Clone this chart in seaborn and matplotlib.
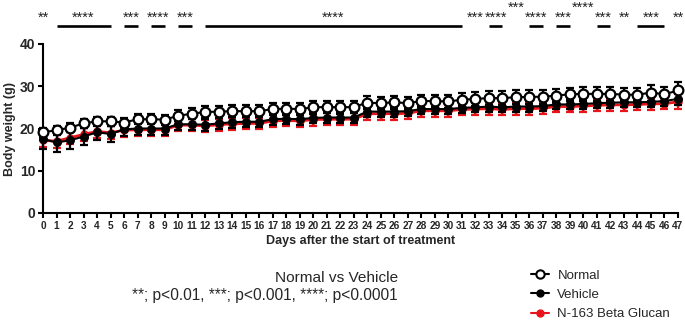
import numpy as np
import pandas as pd
import matplotlib
matplotlib.use("Agg")
import matplotlib.pyplot as plt
from matplotlib.lines import Line2D
import seaborn as sns

# ---------------- data ----------------
days = list(range(48))
normal_mean = [19.1, 19.6, 20.2, 21.2, 21.7, 21.7, 21.4, 22.2, 22.2, 22.1,
               23.0, 23.5, 23.9, 24.0, 24.1, 24.1, 24.1, 24.6, 24.7, 24.6,
               25.0, 25.1, 25.0, 25.1, 26.1, 26.0, 26.2, 26.0, 26.5, 26.5,
               26.4, 26.8, 27.0, 27.2, 27.2, 27.4, 27.5, 27.5, 27.8, 28.1,
               28.2, 28.2, 28.2, 28.0, 28.0, 28.5, 28.1, 29.0]
normal_sd = [1.0, 1.1, 1.1, 1.1, 1.1, 1.1, 1.1, 1.2, 1.2, 1.2,
             1.3, 1.3, 1.4, 1.4, 1.4, 1.4, 1.4, 1.4, 1.4, 1.4,
             1.5, 1.5, 1.5, 1.5, 1.5, 1.5, 1.5, 1.5, 1.5, 1.5,
             1.5, 1.5, 1.6, 1.6, 1.6, 1.6, 1.6, 1.6, 1.6, 1.6,
             1.7, 1.7, 1.7, 1.6, 1.6, 1.9, 1.7, 1.9]
vehicle_mean = [17.5, 16.7, 17.2, 18.1, 19.1, 18.7, 19.8, 20.0, 20.0, 20.0,
                21.0, 21.0, 20.9, 21.2, 21.5, 21.6, 21.6, 22.2, 22.3, 22.2,
                22.5, 22.6, 22.6, 22.6, 24.0, 24.0, 24.0, 24.1, 24.6, 24.6,
                24.6, 24.9, 25.0, 25.2, 25.0, 25.2, 25.2, 25.3, 25.7, 25.7,
                25.8, 26.0, 26.1, 26.2, 26.2, 26.3, 26.5, 27.0]
vehicle_sd = [2.3, 2.2, 2.0, 2.0, 1.8, 1.8, 1.6, 1.5, 1.5, 1.5,
              1.4, 1.4, 1.4, 1.4, 1.3, 1.3, 1.3, 1.3, 1.3, 1.3,
              1.3, 1.3, 1.3, 1.3, 1.2, 1.2, 1.2, 1.2, 1.2, 1.2,
              1.2, 1.2, 1.2, 1.2, 1.2, 1.2, 1.2, 1.2, 1.2, 1.2,
              1.2, 1.2, 1.2, 1.2, 1.2, 1.2, 1.2, 1.4]
beta_mean = [17.2, 17.0, 17.8, 18.6, 19.3, 19.0, 19.6, 19.7, 19.7, 19.7,
             20.8, 20.8, 20.6, 20.9, 21.1, 21.2, 21.2, 21.8, 21.9, 21.8,
             22.1, 22.2, 22.2, 22.2, 23.5, 23.5, 23.5, 23.6, 24.2, 24.2,
             24.2, 24.5, 24.6, 24.7, 24.5, 24.7, 24.7, 24.8, 25.2, 25.2,
             25.3, 25.5, 25.6, 25.6, 25.7, 25.8, 25.9, 26.3]
beta_sd = [1.6, 1.6, 1.5, 1.5, 1.5, 1.5, 1.5, 1.5, 1.5, 1.5,
           1.4, 1.4, 1.4, 1.4, 1.4, 1.4, 1.4, 1.4, 1.4, 1.4,
           1.4, 1.4, 1.4, 1.4, 1.4, 1.4, 1.4, 1.4, 1.4, 1.4,
           1.4, 1.4, 1.4, 1.4, 1.4, 1.4, 1.4, 1.4, 1.4, 1.4,
           1.4, 1.4, 1.4, 1.4, 1.4, 1.4, 1.4, 1.8]

group_names = ["Normal", "Vehicle", "N-163 Beta Glucan"]

# significance (Normal vs Vehicle): start day, end day, label, stacked row
sig_start = [0, 1, 6, 8, 10, 12, 32, 33, 35, 36, 38, 40, 41, 43, 44, 47]
sig_end = [0, 5, 7, 9, 11, 31, 32, 34, 35, 37, 39, 40, 42, 43, 46, 47]
sig_label = ["**", "****", "***", "****", "***", "****", "***", "****",
             "***", "****", "***", "****", "***", "**", "***", "**"]
sig_row = [0, 0, 0, 0, 0, 0, 0, 0, 1, 0, 0, 1, 0, 0, 0, 0]

title_text = "Normal vs Vehicle"
pval_text = "**; p<0.01, ***; p<0.001, ****; p<0.0001"

# ---------------- style ----------------
sns.set_style("ticks")
plt.rcParams["font.family"] = ["Liberation Sans", "DejaVu Sans"]

fig = plt.figure(figsize=(6.85, 3.21), dpi=100)
ax = fig.add_axes([43 / 685, 1 - 213 / 321, (678 - 43) / 685, (213 - 44) / 321])

df = pd.DataFrame({"day": days, "normal": normal_mean,
                   "vehicle": vehicle_mean, "beta": beta_mean})

# N-163 Beta Glucan (red, bottom layer)
ax.errorbar(days, beta_mean, yerr=beta_sd, fmt="none", ecolor="#e8141b",
            elinewidth=1.6, capsize=2.9, capthick=1.6, zorder=2, clip_on=False)
sns.lineplot(data=df, x="day", y="beta", ax=ax, color="#e8141b", lw=2.0,
             marker="o", markersize=5, markerfacecolor="#e8141b",
             markeredgecolor="#e8141b", markeredgewidth=1, zorder=3,
             clip_on=False)

# Vehicle (black filled)
ax.errorbar(days, vehicle_mean, yerr=vehicle_sd, fmt="none", ecolor="black",
            elinewidth=1.6, capsize=2.9, capthick=1.6, zorder=4, clip_on=False)
sns.lineplot(data=df, x="day", y="vehicle", ax=ax, color="black", lw=1.5,
             marker="o", markersize=5.5, markerfacecolor="black",
             markeredgecolor="black", markeredgewidth=1, zorder=5,
             clip_on=False)

# Normal (open circles, top)
ax.errorbar(days, normal_mean, yerr=normal_sd, fmt="none", ecolor="black",
            elinewidth=1.6, capsize=2.9, capthick=1.6, zorder=6, clip_on=False)
sns.lineplot(data=df, x="day", y="normal", ax=ax, color="black", lw=1.5,
             marker="o", markersize=7, markerfacecolor="white",
             markeredgecolor="black", markeredgewidth=1.6, zorder=7,
             clip_on=False)

ax.set_xlim(0, 47)
ax.set_ylim(0, 40)
ax.set_xticks(days)
ax.set_xticklabels([str(d) for d in days], fontsize=7.3, fontweight="bold")
ax.set_yticks([0, 10, 20, 30, 40])
ax.set_yticklabels(["0", "10", "20", "30", "40"], fontsize=10, fontweight="bold")
ax.tick_params(axis="both", direction="out", length=3.5, width=1.5,
               color="black", pad=2)
for side in ["top", "right"]:
    ax.spines[side].set_visible(False)
for side in ["left", "bottom"]:
    ax.spines[side].set_linewidth(1.5)
    ax.spines[side].set_color("black")
ax.set_xlabel("Days after the start of treatment", fontsize=9,
              fontweight="bold", labelpad=3)
ax.set_ylabel("Body weight (g)", fontsize=9, fontweight="bold", labelpad=3)

# significance bars
line_y = 44.3
text_y = [46.3, 48.6]
for s, e, lab, r in zip(sig_start, sig_end, sig_label, sig_row):
    if e > s:
        ax.plot([s, e], [line_y, line_y], color="black", lw=1.9,
                solid_capstyle="butt", clip_on=False)
    ax.text((s + e) / 2, text_y[r], lab, ha="center", va="center",
            fontsize=10.5, color="#222222", clip_on=False)

# footnote texts
fig.text(398 / 685, 1 - 281.5 / 321, title_text, ha="right", va="baseline",
         fontsize=11.1)
fig.text(398 / 685, 1 - 300 / 321, pval_text, ha="right", va="baseline",
         fontsize=11.2)

# legend
handles = [
    Line2D([], [], color="black", lw=1.5, marker="o", markersize=6,
           markerfacecolor="white", markeredgecolor="black", markeredgewidth=1.5),
    Line2D([], [], color="black", lw=1.5, marker="o", markersize=5,
           markerfacecolor="black", markeredgecolor="black"),
    Line2D([], [], color="#e8141b", lw=1.5, marker="o", markersize=5,
           markerfacecolor="#e8141b", markeredgecolor="#e8141b"),
]
fig.legend(handles, group_names, loc="upper left",
           bbox_to_anchor=(531 / 685, 1 - 269.5 / 321), frameon=False,
           fontsize=9.5, handlelength=1.4, handletextpad=0.6,
           labelspacing=0.53, borderaxespad=0, borderpad=0)

fig.savefig("out.png", dpi=100)
